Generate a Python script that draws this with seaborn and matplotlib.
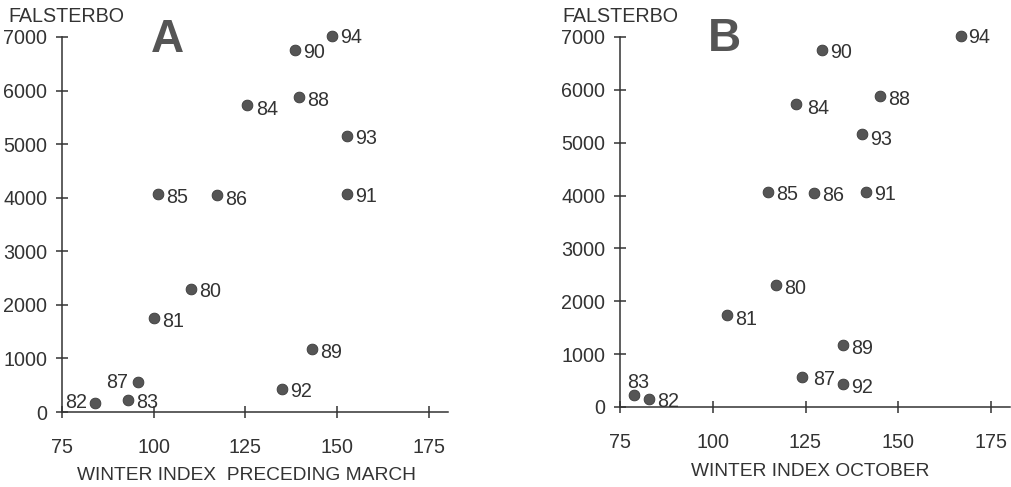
import matplotlib
matplotlib.use("Agg")
import matplotlib.pyplot as plt
import seaborn as sns
import pandas as pd

# ---- data ----
years = ["80", "81", "82", "83", "84", "85", "86", "87", "88", "89", "90", "91", "92", "93", "94"]
falsterbo = [2300, 1750, 160, 230, 5730, 4070, 4050, 560, 5880, 1170, 6760, 4070, 430, 5160, 7010]
winter_march = [110.1, 100.1, 84.0, 93.0, 125.4, 101.2, 117.3, 95.7, 139.6, 143.1, 138.5, 152.6, 135.0, 152.6, 148.6]
winter_october = [117.0, 103.8, 82.8, 78.8, 122.4, 114.9, 127.3, 124.1, 145.0, 135.1, 129.4, 141.3, 135.1, 140.2, 166.9]
x_ticks = [75, 100, 125, 150, 175]
y_ticks = [0, 1000, 2000, 3000, 4000, 5000, 6000, 7000]

# label offsets (pixels) per panel
offs_a = {y: (8, -3, "left") for y in years}
offs_a.update({"87": (-10, 0, "right"), "82": (-8, 1, "right"), "94": (8, -1, "left"),
               "84": (9, -4, "left"), "85": (8, -4, "left"), "86": (8, -4, "left")})
offs_b = {y: (8, -3, "left") for y in years}
offs_b.update({"83": (4, 12, "center"), "84": (11, -4, "left"), "87": (11, -2, "left"),
               "94": (7, -1, "left"), "93": (8, -5, "left"), "81": (8, -5, "left")})

sns.set_style("ticks")
plt.rcParams["font.family"] = ["Liberation Sans", "DejaVu Sans"]
TXT = "#333333"
plt.rcParams["text.color"] = TXT
plt.rcParams["axes.labelcolor"] = TXT
plt.rcParams["xtick.color"] = TXT
plt.rcParams["ytick.color"] = TXT

FS = 14.2
W, H = 1012, 487
fig = plt.figure(figsize=(W / 100, H / 100), dpi=100)

df = pd.DataFrame({"year": years, "falsterbo": falsterbo,
                   "march": winter_march, "october": winter_october})


def make_panel(rect_px, xmax, xcol, xlabel, letter, offs, letter_px, title_px, xlabel_px):
    x0, y0, x1, y1 = rect_px  # left, top(7000), right, bottom(0)
    ax = fig.add_axes([x0 / W, (H - y1) / H, (x1 - x0) / W, (y1 - y0) / H])
    sns.scatterplot(data=df, x=xcol, y="falsterbo", ax=ax, s=60, color="#555555",
                    edgecolor="#3a3a3a", linewidth=0.6, clip_on=False, zorder=3)
    ax.set_xlim(75, xmax)
    ax.set_ylim(0, 7000)
    ax.set_xticks(x_ticks)
    ax.set_yticks(y_ticks)
    ax.set_xlabel("")
    ax.set_ylabel("")
    for s in ["top", "right"]:
        ax.spines[s].set_visible(False)
    for s in ["left", "bottom"]:
        ax.spines[s].set_color("#333333")
        ax.spines[s].set_linewidth(1.1)
    ax.tick_params(axis="both", direction="inout", length=9, width=1.1, color="#333333",
                   labelsize=FS)
    ax.tick_params(axis="y", pad=6)
    ax.tick_params(axis="x", pad=14)
    for yr, xv, yv in zip(df["year"], df[xcol], df["falsterbo"]):
        dx, dy, ha = offs[yr]
        ax.annotate(yr, (xv, yv), xytext=(dx, dy), textcoords="offset pixels",
                    ha=ha, va="center", fontsize=FS, color=TXT, annotation_clip=False)
    fig.text(title_px[0] / W, 1 - title_px[1] / H, "FALSTERBO", fontsize=FS,
             ha="left", va="center", color=TXT)
    fig.text(letter_px[0] / W, 1 - letter_px[1] / H, letter, fontsize=33,
             fontweight="bold", ha="left", va="center", color="#555555")
    fig.text(xlabel_px[0] / W, 1 - xlabel_px[1] / H, xlabel, fontsize=13.8,
             ha="center", va="center", color=TXT)
    return ax


make_panel((62, 37, 448, 412), 75 + (448 - 62) / 3.67, "march",
           "WINTER INDEX  PRECEDING MARCH", "A", offs_a, (151, 40), (8, 17), (247, 476))
make_panel((620, 37, 1010, 407), 75 + (1010 - 620) / 3.71, "october",
           "WINTER INDEX OCTOBER", "B", offs_b, (708, 39), (562, 17), (810, 472))

fig.savefig("out.png", dpi=100)
